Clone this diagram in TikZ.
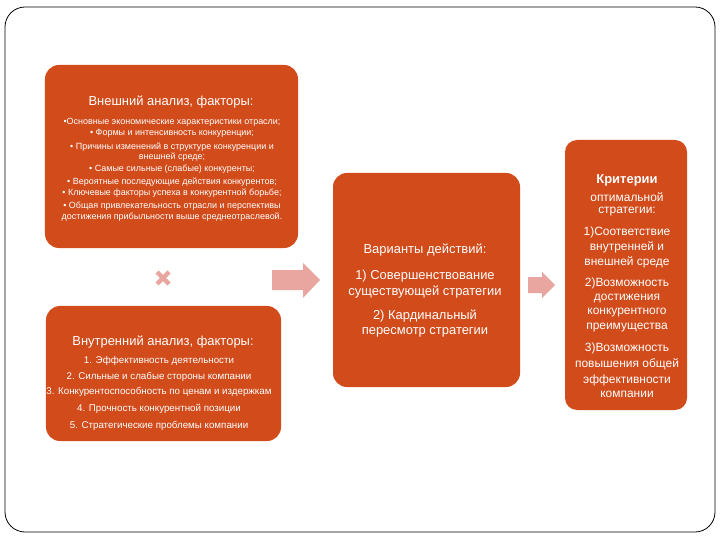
\documentclass[tikz,border=0pt]{standalone}
\usepackage{fontspec}
\setmainfont{Liberation Sans}
\definecolor{boxred}{RGB}{209,75,27}
\definecolor{softpink}{RGB}{233,166,160}
\tikzset{
  box/.style={fill=boxred, rounded corners=14bp, inner sep=0pt},
  ttl/.style={text=white, inner sep=0pt, font=\fontsize{13}{15}\selectfont},
  small/.style={text=white, inner sep=0pt, font=\fontsize{9}{10}\selectfont},
  mid/.style={text=white, inner sep=0pt, font=\fontsize{9.8}{11}\selectfont},
  big/.style={text=white, inner sep=0pt, font=\fontsize{13}{15}\selectfont},
  crit/.style={text=white, inner sep=0pt, font=\fontsize{12}{14}\selectfont},
}
\begin{document}
\begin{tikzpicture}[x=1bp, y=-1bp, line join=round, line cap=round]
    \useasboundingbox (0,0) rectangle (720,540);
    % рамка слайда
    \draw[line width=0.8bp, rounded corners=20bp] (5,7) rectangle (715,532);
    % блоки
    \node[box, minimum width=253bp, minimum height=183bp] (ext) at (171.5,156.5) {};
    \node[box, minimum width=235bp, minimum height=135bp] (int) at (163.5,373.5) {};
    \node[box, minimum width=187bp, minimum height=214bp] (var) at (426.5,280) {};
    \node[box, rounded corners=12bp, minimum width=122bp, minimum height=270bp] (crit) at (626,275) {};
    % внешний анализ
    \node[ttl] (ext-t) at (171,102) {Внешний анализ, факторы:};
    \foreach \y/\t [count=\i] in {122/{•Основные экономические характеристики отрасли;},
        133/{• Формы и интенсивность конкуренции;},
        147/{• Причины изменений в структуре конкуренции и},
        157/{внешней среде;},
        169/{• Самые сильные (слабые) конкуренты;},
        182/{• Вероятные последующие действия конкурентов;},
        193/{• Ключевые факторы успеха в конкурентной борьбе;},
        206/{• Общая привлекательность отрасли и перспективы},
        217/{достижения прибыльности выше среднеотраслевой.}}
        \node[small] (ext-\i) at (172,\y) {\t};
    % внутренний анализ
    \node[ttl] (int-t) at (163,342) {Внутренний анализ, факторы:};
    \foreach \y/\t [count=\i] in {361/{1. Эффективность деятельности},
        377/{2. Сильные и слабые стороны компании},
        392/{3. Конкурентоспособность по ценам и издержкам},
        409/{4. Прочность конкурентной позиции},
        426/{5. Стратегические проблемы компании}}
        \node[mid] (int-\i) at (159,\y) {\t};
    % варианты действий
    \foreach \y/\t [count=\i] in {250/{Варианты действий:},
        276/{1) Совершенствование},
        292/{существующей стратегии},
        316/{2) Кардинальный},
        332/{пересмотр стратегии}}
        \node[big] (var-\i) at (425,\y) {\t};
    % критерии
    \node[big] (crit-t) at (627,180) {\bfseries Критерии};
    \foreach \y/\t [count=\i] in {197/{оптимальной}, 212/{стратегии:},
        232/{1)Соответствие}, 247/{внутренней и}, 262/{внешней среде},
        283/{2)Возможность}, 298/{достижения}, 313/{конкурентного}, 328/{преимущества},
        348/{3)Возможность}, 364/{повышения общей}, 380/{эффективности}, 394/{компании}}
        \node[crit] (crit-\i) at (627,\y) {\t};
    % крестик и стрелки
    \draw[softpink, line width=4.5bp, line cap=butt] (157,272)--(169,284) (157,284)--(169,272);
    \fill[softpink] (272,270)--(303,270)--(303,263)--(320,280)--(303,298)--(303,290)--(272,290)--cycle;
    \fill[softpink] (528,277)--(542,277)--(542,272)--(555,285)--(542,298)--(542,293)--(528,293)--cycle;
\end{tikzpicture}
\end{document}
